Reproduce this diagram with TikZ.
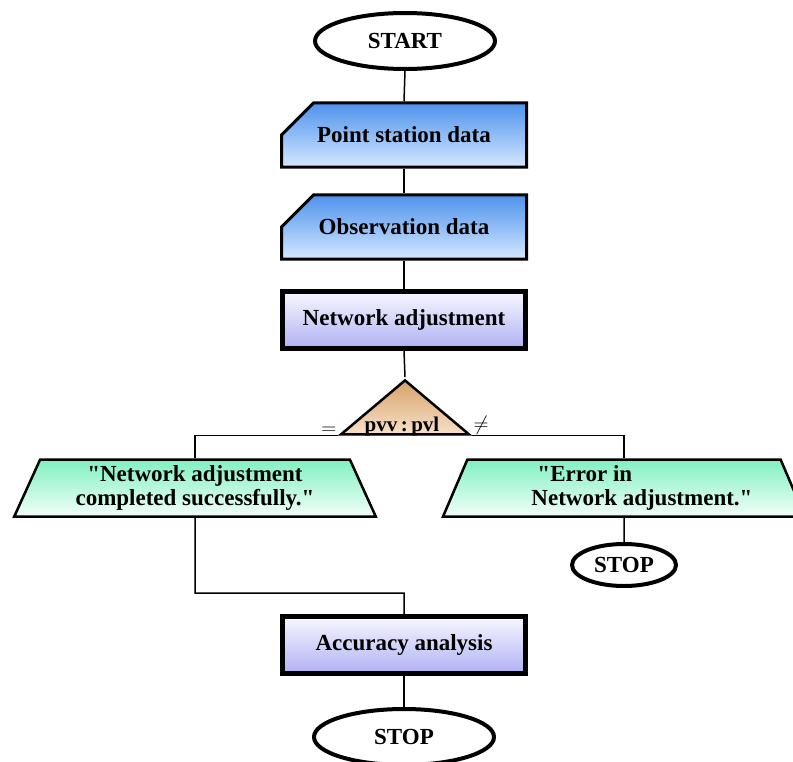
\documentclass[tikz,border=0pt]{standalone}
\usepackage{fontspec}
\setmainfont{Liberation Serif}
\usetikzlibrary{shapes.geometric,shapes.misc}
\definecolor{datatop}{RGB}{78,146,236}
\definecolor{databot}{RGB}{212,232,255}
\definecolor{proctop}{RGB}{248,248,255}
\definecolor{procbot}{RGB}{176,176,244}
\definecolor{msgtop}{RGB}{128,240,192}
\definecolor{msgbot}{RGB}{242,255,250}
\definecolor{dectop}{RGB}{214,162,106}
\definecolor{decbot}{RGB}{248,224,200}

\begin{document}
\begin{tikzpicture}[x=1pt,y=-1pt,
	txt/.style={font=\bfseries\fontsize{23}{24}\selectfont},
	term/.style={txt,ellipse,draw,line width=4pt,inner sep=0pt,fill=white},
	databox/.style={txt,chamfered rectangle,chamfered rectangle corners=north west,
		chamfered rectangle xsep=24pt,chamfered rectangle ysep=24pt,
		draw,line width=3pt,inner sep=0pt,minimum width=245pt,minimum height=57pt,
		top color=datatop,bottom color=databot},
	procbox/.style={txt,rectangle,draw,line width=5pt,inner sep=0pt,
		minimum width=243pt,minimum height=57pt,top color=proctop,bottom color=procbot},
	msgbox/.style={txt,trapezium,trapezium left angle=66,trapezium right angle=66,
		trapezium stretches=true,draw,line width=2.5pt,inner sep=0pt,
		minimum width=363pt,minimum height=57pt,top color=msgtop,bottom color=msgbot},
	link/.style={line width=1.5pt}]
	%%%%% START %%%%%
	\useasboundingbox (0,0) rectangle (793,761);
	
	\node[term,minimum width=180pt,minimum height=56pt] (start) at (405,41) {START};
	\node[databox] (points) at (404,135) {Point station data};
	\node[databox] (obs) at (404,227) {Observation data};
	\node[procbox] (adjust) at (404,320) {Network adjustment};
	
	\node[isosceles triangle,shape border rotate=90,isosceles triangle stretches=true,
		draw,line width=2.5pt,inner sep=0pt,minimum width=128pt,minimum height=54pt,
		top color=dectop,bottom color=decbot] (check) at (405,411) {};
	\node[txt,font=\bfseries\fontsize{21}{22}\selectfont] (checktxt) at (402,426) {pvv\,:\,pvl};
	\node[anchor=south east,font=\fontsize{20}{20}\selectfont,inner sep=1pt] (eq) at (check.left corner) {$=$};
	\node[anchor=south west,font=\fontsize{20}{20}\selectfont,inner sep=1pt] (neq) at (check.right corner) {$\neq$};
	
	\node[msgbox,align=center] (okmsg) at (195,488) {\textquotedbl Network adjustment\\completed successfully.\textquotedbl};
	\node[msgbox,align=left] (errmsg) at (624,488) {\hspace*{42pt}\textquotedbl Error in\\\hspace*{36pt}Network adjustment.\textquotedbl};
	\node[term,minimum width=104pt,minimum height=42pt] (stopb) at (624,565) {STOP};
	
	\node[procbox] (accuracy) at (404,645) {Accuracy analysis};
	\node[term,minimum width=180pt,minimum height=56pt] (stop) at (404,737) {STOP};
	\coordinate (join) at (195,593);
	
	\draw[link] (start.south) -- (points.north);
	\draw[link] (points.south) -- (obs.north);
	\draw[link] (obs.south) -- (adjust.north);
	\draw[link] (adjust.south) -- (check.apex);
	\draw[link] (check.left corner) -| (okmsg.north);
	\draw[link] (check.right corner) -| (errmsg.north);
	\draw[link] (errmsg.south) -- (stopb.north);
	\draw[link] (okmsg.south) -- (join) -| (accuracy.north);
	\draw[link] (accuracy.south) -- (stop.north);
	%%%%% END %%%%%
\end{tikzpicture}
\end{document}
